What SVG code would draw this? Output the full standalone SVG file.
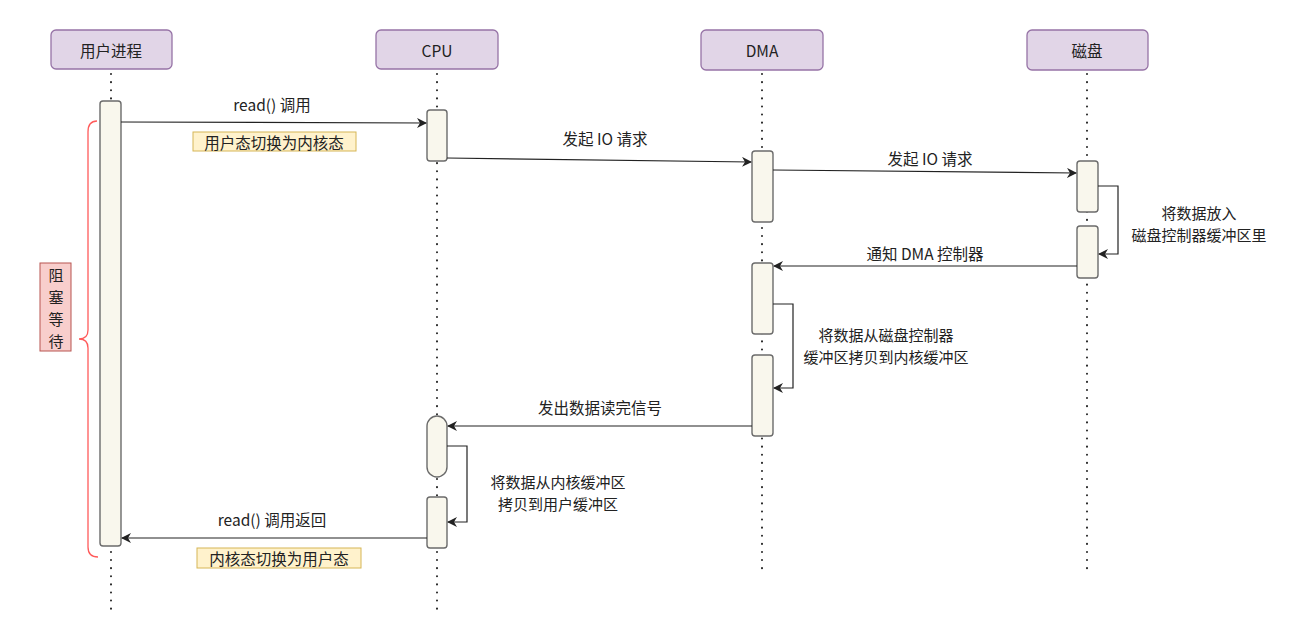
<svg xmlns="http://www.w3.org/2000/svg" width="1299" height="641" viewBox="0 0 1299 641">
<defs>
<style>
text{font-family:"Noto Sans CJK SC","Liberation Sans",sans-serif;font-size:15.5px;fill:#222;text-anchor:middle;dominant-baseline:central}
.ml{font-size:15px}
.hdr{fill:#e1d5e7;stroke:#9673a6;stroke-width:1.3}
.life{stroke:#222;stroke-width:2;stroke-dasharray:0.1 8;stroke-linecap:round;fill:none}
.act{fill:#f9f7ed;stroke:#6b6b6b;stroke-width:1.4}
.msg{stroke:#222;stroke-width:1.2;fill:none;marker-end:url(#ah)}
.note{fill:#fff2cc;stroke:#d6b656;stroke-width:1}
</style>
<marker id="ah" viewBox="0 0 10 10" refX="9" refY="5" markerWidth="10" markerHeight="10" markerUnits="userSpaceOnUse" orient="auto">
<path d="M0,0 L10,5 L0,10 L3,5 Z" fill="#222"/>
</marker>
</defs>
<rect width="1299" height="641" fill="#ffffff"/>

<g id="lifelines">
<line class="life" x1="111" y1="74" x2="111" y2="612"/>
<line class="life" x1="437" y1="74" x2="437" y2="612"/>
<line class="life" x1="762" y1="74" x2="762" y2="572"/>
<line class="life" x1="1087" y1="74" x2="1087" y2="572"/>
</g>

<g id="user">
<rect class="hdr" x="51" y="30" width="121" height="39" rx="5"/>
<text x="111" y="50">用户进程</text>
<rect class="act" x="100" y="101" width="21" height="445" rx="3"/>
</g>
<g id="cpu">
<rect class="hdr" x="376" y="30" width="122" height="39" rx="5"/>
<text x="437" y="50">CPU</text>
<rect class="act" x="427" y="110" width="20" height="51" rx="3"/>
<rect class="act" x="427" y="416" width="20" height="61" rx="10"/>
<rect class="act" x="427" y="497" width="20" height="51" rx="3"/>
</g>
<g id="dma">
<rect class="hdr" x="701" y="30" width="122" height="40" rx="5"/>
<text x="762" y="50">DMA</text>
<rect class="act" x="752" y="151" width="21" height="71" rx="3"/>
<rect class="act" x="752" y="263" width="21" height="71" rx="3"/>
<rect class="act" x="752" y="355" width="21" height="81" rx="3"/>
</g>
<g id="disk">
<rect class="hdr" x="1027" y="30" width="121" height="40" rx="5"/>
<text x="1087" y="50">磁盘</text>
<rect class="act" x="1077" y="161" width="21" height="51" rx="3"/>
<rect class="act" x="1077" y="226" width="21" height="52" rx="3"/>
</g>

<g id="block">
<path d="M97,121 Q88,121 88,132 L88,330 Q88,339 79,339 Q88,339 88,348 L88,547 Q88,557 98,557" fill="none" stroke="#ff5a5a" stroke-width="1.3"/>
<rect x="40" y="263" width="31" height="88" fill="#f8cecc" stroke="#b85450" stroke-width="1"/>
<text class="ml" x="56" y="274">阻</text>
<text class="ml" x="56" y="296">塞</text>
<text class="ml" x="56" y="318">等</text>
<text class="ml" x="56" y="340">待</text>
</g>

<g id="connectors">
<line class="msg" x1="121" y1="122" x2="426" y2="123"/>
<line class="msg" x1="447" y1="158" x2="751" y2="162"/>
<line class="msg" x1="773" y1="170" x2="1076" y2="173"/>
<polyline class="msg" points="1098,186 1118,186 1118,254 1099,254"/>
<line class="msg" x1="1077" y1="266" x2="774" y2="266"/>
<polyline class="msg" points="773,304 793,304 793,388 774,388"/>
<line class="msg" x1="752" y1="426" x2="448" y2="426"/>
<polyline class="msg" points="447,446 467,446 467,522 448,522"/>
<line class="msg" x1="427" y1="538" x2="122" y2="538"/>
</g>

<g id="labels">
<text x="272" y="104">read() 调用</text>
<rect class="note" x="193" y="132" width="163" height="19"/>
<text x="274" y="142">用户态切换为内核态</text>
<text x="605" y="138">发起 IO 请求</text>
<text x="930" y="158">发起 IO 请求</text>
<text class="ml" x="1199" y="212">将数据放入</text>
<text class="ml" x="1199" y="234">磁盘控制器缓冲区里</text>
<text x="925" y="253">通知 DMA 控制器</text>
<text class="ml" x="886" y="334">将数据从磁盘控制器</text>
<text class="ml" x="886" y="356">缓冲区拷贝到内核缓冲区</text>
<text x="600" y="407">发出数据读完信号</text>
<text class="ml" x="558" y="481">将数据从内核缓冲区</text>
<text class="ml" x="558" y="503">拷贝到用户缓冲区</text>
<text x="272" y="519">read() 调用返回</text>
<rect class="note" x="197" y="548" width="164" height="20"/>
<text x="279" y="558">内核态切换为用户态</text>
</g>
</svg>
